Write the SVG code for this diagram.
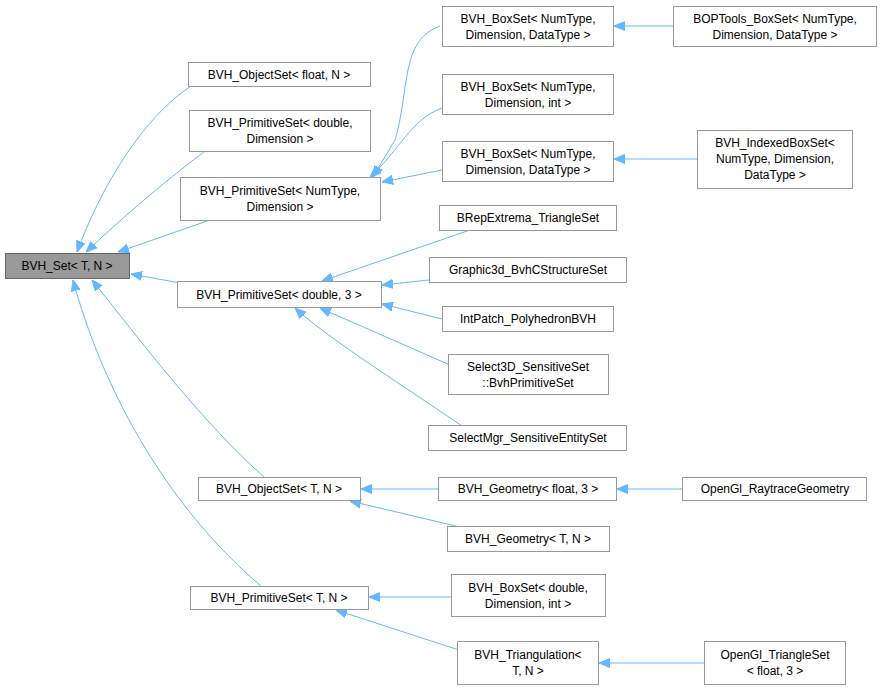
<svg xmlns="http://www.w3.org/2000/svg" width="881" height="691" viewBox="0 0 881 691">
<style>
.n rect{fill:#fff;stroke:#999;stroke-width:1}
.g rect{fill:#999;stroke:#666}
text{font-family:"Liberation Sans",Arial,sans-serif;font-size:12px;fill:#000;text-anchor:middle}
.e path{fill:none;stroke:#63b8ff;stroke-width:1;marker-end:url(#a)}
</style>
<defs><marker id="a" viewBox="0 0 10 10" refX="10" refY="5" markerWidth="11" markerHeight="11" orient="auto" markerUnits="userSpaceOnUse"><path d="M0,1 L10,5 L0,9 z" fill="#63b8ff" stroke="#63b8ff"/></marker></defs>
<rect width="881" height="691" fill="#fff"/>
<g class="e">
<path d="M191,86 C140,120 100,190 77,252"/>
<path d="M205,151 C160,185 120,220 86,252"/>
<path d="M210,220 L118,252"/>
<path d="M180,283 L131,274"/>
<path d="M265,478 C200,420 140,340 92,280"/>
<path d="M262,587 C160,500 100,380 73,280"/>
<path d="M440,26 C400,40 410,90 395,140 L373,177"/>
<path d="M442,108 C410,120 400,150 370,177"/>
<path d="M442,170 L382,182"/>
<path d="M673,26 L614,26"/>
<path d="M697,159 L614,159"/>
<path d="M470,230 L322,281"/>
<path d="M429,280 L382,285"/>
<path d="M442,319 L382,304"/>
<path d="M450,365 L320,308"/>
<path d="M462,426 C410,390 330,340 295,308"/>
<path d="M438,489 L361,489"/>
<path d="M682,489 L617,489"/>
<path d="M460,527 L350,501"/>
<path d="M451,597 L369,597"/>
<path d="M462,651 L336,610"/>
<path d="M704,663 L599,663"/>
</g>
<g class="n g" id="bvh_set"><rect x="5.5" y="253.5" width="124" height="25"/><text x="67" y="270">BVH_Set&lt; T, N &gt;</text></g>
<g class="n" id="objset_float"><rect x="188.5" y="62.5" width="182" height="24"/><text x="279" y="79">BVH_ObjectSet&lt; float, N &gt;</text></g>
<g class="n" id="primset_double_dim"><rect x="189.5" y="110.5" width="181" height="41"/><text x="280" y="127">BVH_PrimitiveSet&lt; double,</text><text x="280" y="143">Dimension &gt;</text></g>
<g class="n" id="primset_num_dim"><rect x="180.5" y="177.5" width="200" height="43"/><text x="280" y="195">BVH_PrimitiveSet&lt; NumType,</text><text x="280" y="211">Dimension &gt;</text></g>
<g class="n" id="primset_double3"><rect x="177.5" y="281.5" width="204" height="26"/><text x="279" y="299">BVH_PrimitiveSet&lt; double, 3 &gt;</text></g>
<g class="n" id="objset_tn"><rect x="198.5" y="477.5" width="162" height="23"/><text x="279" y="493">BVH_ObjectSet&lt; T, N &gt;</text></g>
<g class="n" id="primset_tn"><rect x="190.5" y="586.5" width="178" height="23"/><text x="279" y="602">BVH_PrimitiveSet&lt; T, N &gt;</text></g>
<g class="n" id="boxset1"><rect x="442.5" y="6.5" width="171" height="40"/><text x="528" y="23">BVH_BoxSet&lt; NumType,</text><text x="528" y="39">Dimension, DataType &gt;</text></g>
<g class="n" id="boptools"><rect x="673.5" y="6.5" width="203" height="40"/><text x="775" y="23">BOPTools_BoxSet&lt; NumType,</text><text x="775" y="39">Dimension, DataType &gt;</text></g>
<g class="n" id="boxset_int"><rect x="442.5" y="74.5" width="171" height="40"/><text x="528" y="91">BVH_BoxSet&lt; NumType,</text><text x="528" y="107">Dimension, int &gt;</text></g>
<g class="n" id="boxset2"><rect x="442.5" y="141.5" width="171" height="40"/><text x="528" y="158">BVH_BoxSet&lt; NumType,</text><text x="528" y="174">Dimension, DataType &gt;</text></g>
<g class="n" id="indexed"><rect x="697.5" y="130.5" width="155" height="58"/><text x="775" y="147">BVH_IndexedBoxSet&lt;</text><text x="775" y="163">NumType, Dimension,</text><text x="775" y="179">DataType &gt;</text></g>
<g class="n" id="brep"><rect x="439.5" y="205.5" width="177" height="25"/><text x="528" y="222">BRepExtrema_TriangleSet</text></g>
<g class="n" id="graphic3d"><rect x="429.5" y="257.5" width="197" height="25"/><text x="528" y="274">Graphic3d_BvhCStructureSet</text></g>
<g class="n" id="intpatch"><rect x="442.5" y="306.5" width="171" height="25"/><text x="528" y="323">IntPatch_PolyhedronBVH</text></g>
<g class="n" id="select3d"><rect x="448.5" y="354.5" width="160" height="40"/><text x="528" y="371">Select3D_SensitiveSet</text><text x="528" y="387">::BvhPrimitiveSet</text></g>
<g class="n" id="selectmgr"><rect x="428.5" y="425.5" width="198" height="25"/><text x="528" y="442">SelectMgr_SensitiveEntitySet</text></g>
<g class="n" id="geom_float"><rect x="438.5" y="477.5" width="178" height="23"/><text x="528" y="493">BVH_Geometry&lt; float, 3 &gt;</text></g>
<g class="n" id="raytrace"><rect x="682.5" y="477.5" width="184" height="23"/><text x="775" y="493">OpenGl_RaytraceGeometry</text></g>
<g class="n" id="geom_tn"><rect x="447.5" y="526.5" width="162" height="25"/><text x="528" y="543">BVH_Geometry&lt; T, N &gt;</text></g>
<g class="n" id="boxset_double"><rect x="451.5" y="574.5" width="154" height="42"/><text x="528" y="592">BVH_BoxSet&lt; double,</text><text x="528" y="608">Dimension, int &gt;</text></g>
<g class="n" id="triang"><rect x="457.5" y="641.5" width="141" height="43"/><text x="528" y="659">BVH_Triangulation&lt;</text><text x="528" y="675">T, N &gt;</text></g>
<g class="n" id="opengl_tri"><rect x="704.5" y="641.5" width="141" height="43"/><text x="775" y="659">OpenGl_TriangleSet</text><text x="775" y="675">&lt; float, 3 &gt;</text></g>
</svg>
